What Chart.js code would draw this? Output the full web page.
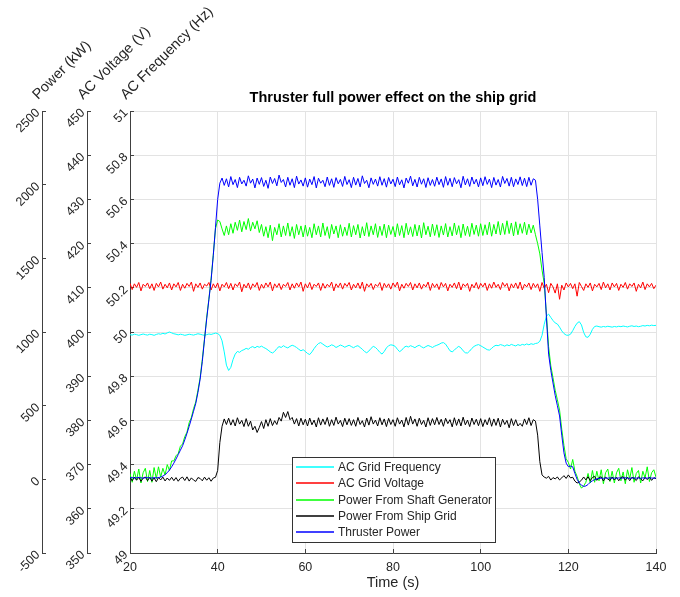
<!DOCTYPE html>
<html>
<head>
<meta charset="utf-8">
<script src="https://cdn.jsdelivr.net/npm/chart.js@4.4.1/dist/chart.umd.min.js"></script>
<style>
  html, body { margin: 0; padding: 0; background: #fff; }
  #wrap { width: 680px; height: 597px; position: relative; }
</style>
</head>
<body>
<div id="wrap"><canvas id="chart_grid"></canvas></div>
<script>
// time base (s)
var time_s = [
  20,20.5,21,21.5,22,22.5,23,23.5,24,24.5,25,25.5,26,26.5,27,27.5,28,28.5,29,29.5,
  30,30.5,31,31.5,32,32.5,33,33.5,34,34.5,35,35.5,36,36.5,37,37.5,38,38.5,39,39.5,
  40,40.5,41,41.5,42,42.5,43,43.5,44,44.5,45,45.5,46,46.5,47,47.5,48,48.5,49,49.5,
  50,50.5,51,51.5,52,52.5,53,53.5,54,54.5,55,55.5,56,56.5,57,57.5,58,58.5,59,59.5,
  60,60.5,61,61.5,62,62.5,63,63.5,64,64.5,65,65.5,66,66.5,67,67.5,68,68.5,69,69.5,
  70,70.5,71,71.5,72,72.5,73,73.5,74,74.5,75,75.5,76,76.5,77,77.5,78,78.5,79,79.5,
  80,80.5,81,81.5,82,82.5,83,83.5,84,84.5,85,85.5,86,86.5,87,87.5,88,88.5,89,89.5,
  90,90.5,91,91.5,92,92.5,93,93.5,94,94.5,95,95.5,96,96.5,97,97.5,98,98.5,99,99.5,
  100,100.5,101,101.5,102,102.5,103,103.5,104,104.5,105,105.5,106,106.5,107,107.5,108,108.5,109,109.5,
  110,110.5,111,111.5,112,112.5,113,113.5,114,114.5,115,115.5,116,116.5,117,117.5,118,118.5,119,119.5,
  120,120.5,121,121.5,122,122.5,123,123.5,124,124.5,125,125.5,126,126.5,127,127.5,128,128.5,129,129.5,
  130,130.5,131,131.5,132,132.5,133,133.5,134,134.5,135,135.5,136,136.5,137,137.5,138,138.5,139,139.5,
  140
];

// AC grid frequency (Hz)
var grid_frequency = [
  49.988,49.986,49.990,49.988,49.985,49.988,49.991,49.988,49.986,49.990,49.988,49.985,49.989,49.992,49.990,49.994,49.991,49.996,50.000,49.996,
  49.992,49.990,49.987,49.990,49.988,49.985,49.987,49.990,49.988,49.986,49.989,49.992,49.990,49.987,49.985,49.988,49.991,49.989,49.992,49.995,
  49.993,49.985,49.960,49.910,49.850,49.826,49.840,49.875,49.900,49.912,49.908,49.916,49.920,49.926,49.922,49.930,49.934,49.928,49.935,49.931,
  49.936,49.930,49.925,49.918,49.910,49.905,49.912,49.925,49.934,49.930,49.938,49.932,49.928,49.935,49.940,49.936,49.930,49.922,49.915,49.920,
  49.912,49.903,49.898,49.910,49.925,49.938,49.948,49.952,49.945,49.938,49.932,49.936,49.942,49.938,49.930,49.935,49.941,49.937,49.931,49.936,
  49.940,49.934,49.929,49.935,49.938,49.930,49.922,49.912,49.906,49.914,49.926,49.935,49.930,49.920,49.908,49.900,49.912,49.928,49.938,49.942,
  49.940,49.935,49.922,49.911,49.918,49.930,49.936,49.932,49.938,49.934,49.929,49.936,49.940,49.933,49.928,49.934,49.939,49.935,49.930,49.936,
  49.940,49.944,49.950,49.952,49.945,49.930,49.915,49.910,49.918,49.928,49.935,49.928,49.915,49.906,49.905,49.914,49.926,49.935,49.940,49.943,
  49.938,49.932,49.926,49.920,49.918,49.926,49.935,49.940,49.938,49.943,49.940,49.936,49.942,49.938,49.944,49.940,49.937,49.943,49.939,49.944,
  49.941,49.946,49.942,49.947,49.944,49.948,49.950,49.958,49.985,50.035,50.072,50.081,50.066,50.052,50.041,50.036,50.022,50.005,49.993,49.986,
  49.985,49.990,50.006,50.025,50.040,50.047,50.032,49.998,49.978,49.976,49.990,50.012,50.025,50.027,50.024,50.022,50.025,50.023,50.026,50.024,
  50.022,50.025,50.023,50.026,50.024,50.027,50.025,50.023,50.026,50.028,50.025,50.027,50.024,50.026,50.029,50.027,50.030,50.028,50.031,50.029,
  50.030
];

// AC grid voltage (V)
var grid_voltage = [
  411.0,409.6,410.9,410.1,411.2,409.3,410.8,410.3,411.1,409.8,410.9,409.4,411.0,410.2,411.3,409.7,410.8,410.0,411.1,409.5,
  410.9,410.2,411.2,409.4,410.8,409.9,411.0,410.3,411.3,409.2,410.9,410.1,411.1,409.7,410.8,410.4,411.2,409.5,410.9,410.0,
  411.1,409.3,410.8,410.2,411.2,409.8,411.0,409.5,410.9,410.3,411.3,409.1,410.8,410.0,411.1,409.6,410.9,410.2,411.2,409.4,
  410.8,409.9,411.1,410.2,411.3,409.3,410.9,410.1,411.0,409.6,410.8,410.3,411.2,409.5,410.9,409.9,411.1,410.2,411.3,409.2,
  410.9,410.0,411.2,409.6,410.8,410.3,411.1,409.4,411.0,409.9,410.8,410.2,411.3,409.3,410.9,410.1,411.1,409.7,411.0,410.3,
  411.2,409.5,410.8,410.0,411.1,409.8,411.3,409.2,410.9,410.2,411.0,409.6,410.8,410.3,411.2,409.4,411.0,410.1,410.9,409.7,
  411.1,410.2,411.3,409.3,410.8,409.9,411.0,410.3,411.2,409.5,410.9,410.0,411.1,409.7,410.8,410.2,411.3,409.4,411.0,410.1,
  410.9,409.6,411.2,410.2,411.0,409.3,410.8,410.1,411.1,409.8,411.3,409.5,410.9,410.3,411.0,409.2,410.8,410.0,411.2,409.7,
  411.0,410.2,411.1,409.4,410.9,409.9,411.3,410.1,410.8,409.6,411.2,410.3,411.0,409.3,410.9,410.0,411.1,409.8,411.3,409.5,
  410.8,410.2,411.1,409.6,411.0,410.1,410.9,409.2,411.2,409.9,410.8,408.9,411.0,410.2,408.8,410.9,407.4,410.6,409.5,411.1,
  410.2,411.0,409.8,410.9,408.1,411.2,410.3,409.4,410.9,410.1,411.1,409.3,410.8,410.2,411.0,409.6,411.3,410.0,410.9,409.5,
  411.1,410.2,411.0,409.4,410.8,410.1,411.2,409.7,410.9,410.3,411.1,409.2,410.8,410.0,411.3,409.6,410.9,410.2,411.0,409.8,
  410.6
];

// power from shaft generator (kW)
var shaft_power = [
  40,-20,55,-5,70,-25,45,75,-15,60,-20,80,5,85,15,75,30,100,60,125,
  125,160,175,225,240,290,320,385,420,480,525,605,690,815,955,1100,1225,1360,1525,1700,
  1760,1750,1700,1655,1720,1660,1735,1670,1745,1690,1760,1680,1750,1695,1770,1685,1745,1700,1755,1675,
  1730,1650,1715,1640,1725,1620,1710,1660,1735,1645,1720,1655,1740,1650,1715,1635,1730,1660,1720,1645,
  1725,1650,1710,1640,1735,1660,1720,1645,1740,1655,1715,1635,1730,1665,1720,1640,1728,1650,1712,1655,
  1738,1645,1722,1660,1730,1638,1715,1652,1742,1648,1720,1660,1735,1642,1718,1655,1732,1640,1725,1662,
  1716,1645,1735,1655,1722,1640,1738,1660,1714,1648,1730,1652,1725,1638,1742,1660,1718,1646,1733,1655,
  1728,1642,1720,1658,1736,1645,1715,1652,1740,1660,1722,1640,1733,1655,1718,1648,1738,1662,1725,1650,
  1735,1655,1728,1660,1745,1650,1730,1665,1750,1658,1738,1662,1755,1668,1740,1652,1748,1660,1735,1670,
  1745,1660,1732,1672,1725,1660,1600,1530,1420,1330,1120,900,770,690,605,540,470,340,230,140,
  115,70,135,55,20,-30,-60,-45,-20,40,-25,60,-20,55,-10,65,-30,45,70,-15,
  55,-25,45,75,-10,50,-30,65,5,80,-20,40,60,-25,55,10,85,-15,45,65,
  15
];

// power from ship grid (kW)
var grid_power = [
  12,-10,15,-6,14,-14,8,16,-9,13,-12,10,-16,12,-4,15,-11,9,-7,14,
  -9,12,-13,7,15,-8,17,-12,10,-5,-14,12,6,-10,15,-6,11,-13,9,14,
  60,250,360,410,372,415,368,405,362,418,375,400,358,412,360,395,335,360,318,352,
  392,345,405,360,412,365,398,372,420,395,455,420,460,405,420,375,412,362,415,370,
  408,362,416,370,402,355,418,368,410,372,420,360,405,366,422,375,400,358,415,370,
  412,366,405,360,420,372,398,355,416,368,425,375,402,362,418,370,410,358,414,372,
  405,360,418,375,402,356,420,368,428,375,410,360,415,372,400,355,418,366,412,370,
  420,372,408,360,415,378,405,356,418,366,410,362,422,370,402,358,416,372,408,364,
  412,358,405,370,418,360,410,366,415,355,408,372,400,350,412,365,405,362,380,360,
  410,372,418,365,405,395,300,120,30,15,8,20,-5,12,3,16,-4,10,25,6,
  30,10,14,-12,-25,-18,-6,16,-4,18,-9,13,20,-7,12,17,-11,15,2,-8,
  16,-5,14,-10,12,18,-6,15,-9,14,6,-8,17,3,-10,13,-2,15,-7,11,
  5
];

// thruster power (kW)
var thruster_power = [
  10,12,9,11,13,10,8,11,12,10,9,11,10,12,15,22,32,45,63,85,
  110,138,168,198,228,268,312,360,410,462,515,590,680,800,950,1090,1220,1350,1520,1710,
  1900,2010,2045,1995,2040,1985,2055,2000,2035,1980,2050,2005,2030,1990,2060,2010,2038,1978,2045,2002,
  2048,1988,2030,1975,2052,2008,2042,1992,2065,2015,2035,1984,2050,1996,2040,1980,2058,2004,2032,1990,
  2046,1983,2038,2000,2055,1978,2044,2010,2030,1986,2052,1995,2040,1982,2048,2006,2036,1988,2056,2001,
  2034,1980,2050,1997,2042,1985,2060,2008,2030,1979,2046,2002,2038,1990,2054,1996,2041,1983,2049,2005,
  2037,1987,2052,1999,2033,1978,2045,2010,2058,1992,2036,1984,2050,2003,2040,1981,2047,1995,2035,1989,
  2051,2000,2039,1982,2055,1996,2043,1986,2048,2006,2034,1979,2057,1998,2040,1988,2052,2004,2037,1985,
  2046,1993,2054,2002,2038,1980,2049,1997,2035,1984,2056,2008,2042,1990,2050,1986,2039,2001,2053,1994,
  2044,1987,2050,1996,2040,2030,1900,1720,1540,1370,1100,850,740,654,570,500,430,300,180,110,
  86,90,85,40,0,-25,-40,-48,-45,-35,-20,-10,-2,3,6,8,7,9,8,10,
  8,9,7,10,8,9,11,8,7,9,10,8,9,7,10,9,8,11,9,8,
  9
];

var series_labels = ['AC Grid Frequency', 'AC Grid Voltage', 'Power From Shaft Generator', 'Power From Ship Grid', 'Thruster Power'];
var series_colors = ['#00ffff', '#ff0000', '#00ff00', '#000000', '#0000ff'];

var time_ticks = [20, 40, 60, 80, 100, 120, 140];
var power_ticks = [-500, 0, 500, 1000, 1500, 2000, 2500];
var voltage_ticks = [350, 360, 370, 380, 390, 400, 410, 420, 430, 440, 450];
var frequency_ticks = [49, 49.2, 49.4, 49.6, 49.8, 50, 50.2, 50.4, 50.6, 50.8, 51];

var FONT = '"Liberation Sans", Arial, Helvetica, sans-serif';
var AXIS_COLOR = '#404040';
var TEXT_COLOR = '#262626';
var GRID_COLOR = '#e3e3e3';

function to_points(values){
  return time_s.map(function(t, i){ return {x: t, y: values[i]}; });
}

function set_ticks(list){
  return function(scale){
    scale.ticks = list.map(function(v){ return {value: v}; });
  };
}

function y_axis(list, min, max, weight, width, on_area){
  return {
    type: 'linear',
    position: 'left',
    weight: weight,
    min: min,
    max: max,
    afterBuildTicks: set_ticks(list),
    afterFit: function(scale){ scale.width = width; },
    grid: { drawOnChartArea: on_area, color: GRID_COLOR, tickLength: -4, tickColor: AXIS_COLOR },
    border: { display: true, color: AXIS_COLOR },
    ticks: {
      minRotation: 45, maxRotation: 45, padding: 8,
      color: TEXT_COLOR, font: { family: FONT, size: 12.5 },
      callback: function(v){ return String(v); }
    }
  };
}

// rotated axis titles above the three y axes
var axis_titles = { yPower: 'Power (kW)', yVoltage: 'AC Voltage (V)', yFreq: 'AC Frequency (Hz)' };

var axis_title_plugin = {
  id: 'axis_titles',
  afterDraw: function(chart){
    var ctx = chart.ctx;
    ctx.save();
    ctx.font = '14.5px ' + FONT;
    ctx.fillStyle = TEXT_COLOR;
    ctx.textAlign = 'left';
    ctx.textBaseline = 'alphabetic';
    Object.keys(axis_titles).forEach(function(id){
      var s = chart.scales[id];
      ctx.save();
      ctx.translate(s.right - 4, chart.chartArea.top - 11);
      ctx.rotate(-Math.PI / 4);
      ctx.fillText(axis_titles[id], 0, 0);
      ctx.restore();
    });
    ctx.restore();
  }
};

// boxed legend inside the plot, lower middle
var legend_box_plugin = {
  id: 'legend_box',
  afterDraw: function(chart){
    var ctx = chart.ctx;
    var area = chart.chartArea;
    var left = area.left + 162, top = area.top + 346, w = 203, h = 85;
    ctx.save();
    ctx.fillStyle = '#ffffff';
    ctx.fillRect(left, top, w, h);
    ctx.strokeStyle = '#333333';
    ctx.lineWidth = 1;
    ctx.strokeRect(left + 0.5, top + 0.5, w, h);
    ctx.font = '12px ' + FONT;
    ctx.textBaseline = 'middle';
    ctx.textAlign = 'left';
    chart.data.datasets.forEach(function(ds, i){
      var y = Math.round(top + 10 + i * 16.3);
      ctx.strokeStyle = ds.borderColor;
      ctx.lineWidth = 1.5;
      ctx.beginPath();
      ctx.moveTo(left + 4, y);
      ctx.lineTo(left + 42, y);
      ctx.stroke();
      ctx.fillStyle = TEXT_COLOR;
      ctx.fillText(ds.label, left + 46, y + 0.5);
    });
    ctx.restore();
  }
};

var datasets = [
  { data: to_points(grid_frequency), yAxisID: 'yFreq', order: 4 },
  { data: to_points(grid_voltage), yAxisID: 'yVoltage', order: 3 },
  { data: to_points(shaft_power), yAxisID: 'yPower', order: 2 },
  { data: to_points(grid_power), yAxisID: 'yPower', order: 1 },
  { data: to_points(thruster_power), yAxisID: 'yPower', order: 0 }
].map(function(ds, i){
  ds.label = series_labels[i];
  ds.borderColor = series_colors[i];
  ds.backgroundColor = series_colors[i];
  ds.borderWidth = 1;
  ds.pointRadius = 0;
  ds.tension = 0;
  ds.fill = false;
  return ds;
});

var chart_grid = new Chart(document.getElementById('chart_grid').getContext('2d'), {
  type: 'line',
  data: { datasets: datasets },
  options: {
    responsive: true,
    maintainAspectRatio: false,
    animation: false,
    layout: { padding: { left: 0, right: 24, top: 0, bottom: 0 } },
    plugins: {
      legend: { display: false },
      tooltip: { enabled: false },
      title: {
        display: true,
        fullSize: false,
        text: 'Thruster full power effect on the ship grid',
        color: '#000000',
        font: { family: FONT, size: 14.5, weight: 'bold' },
        padding: { top: 89.3, bottom: 4.3 }
      }
    },
    scales: {
      x: {
        type: 'linear',
        min: 20,
        max: 140,
        afterBuildTicks: set_ticks(time_ticks),
        afterFit: function(scale){ scale.height = 44; },
        grid: { color: GRID_COLOR, tickLength: -4, tickColor: AXIS_COLOR },
        border: { display: true, color: AXIS_COLOR },
        ticks: {
          maxRotation: 0, padding: 11.5,
          color: TEXT_COLOR, font: { family: FONT, size: 12.5 },
          callback: function(v){ return String(v); }
        },
        title: {
          display: true, text: 'Time (s)', color: TEXT_COLOR,
          font: { family: FONT, size: 14.5 },
          padding: { top: 0, bottom: 5 }
        }
      },
      yPower: y_axis(power_ticks, -500, 2500, 3, 42, false),
      yVoltage: y_axis(voltage_ticks, 350, 450, 2, 45, false),
      yFreq: y_axis(frequency_ticks, 49, 51, 1, 43, true)
    }
  },
  plugins: [axis_title_plugin, legend_box_plugin]
});
</script>
</body>
</html>
